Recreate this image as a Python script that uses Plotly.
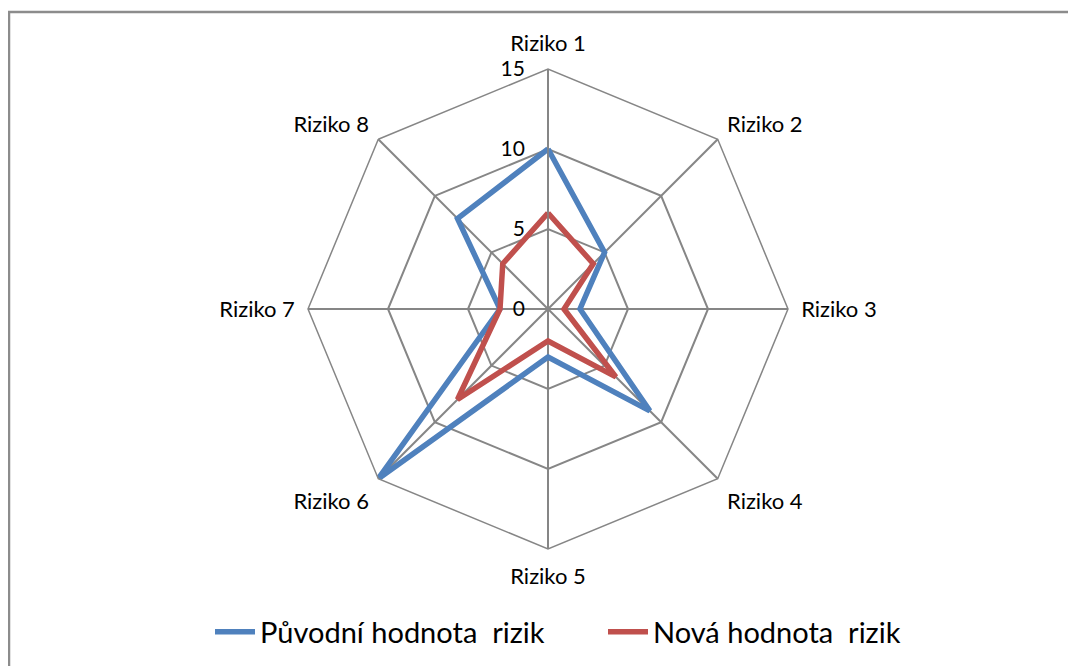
import plotly.graph_objects as go

categories = ["Riziko 1", "Riziko 2", "Riziko 3", "Riziko 4", "Riziko 5", "Riziko 6", "Riziko 7", "Riziko 8"]
puvodni = [10, 5, 2, 9, 3, 15, 3, 8]
nova = [6, 4, 1, 6, 2, 8, 3, 4]
radial_ticks = [0, 5, 10, 15]

W, H = 1076, 666
OFF = 8  # page body margin
cx, cy, R = 548 - OFF, 309 - OFF, 240

fig = go.Figure()
fig.add_trace(go.Scatterpolar(
    r=puvodni + puvodni[:1], theta=categories + categories[:1],
    mode="lines", name="Původní hodnota  rizik",
    line=dict(color="#4F81BD", width=5.5)))
fig.add_trace(go.Scatterpolar(
    r=nova + nova[:1], theta=categories + categories[:1],
    mode="lines", name="Nová hodnota  rizik",
    line=dict(color="#C0504D", width=5.5)))

fig.update_layout(
    width=W, height=H,
    margin=dict(l=0, r=0, t=0, b=0),
    paper_bgcolor="white",
    font=dict(family="Lato, 'Open Sans', sans-serif", color="black"),
    polar=dict(
        domain=dict(x=[(cx - R) / W, (cx + R) / W], y=[1 - (cy + R) / H, 1 - (cy - R) / H]),
        bgcolor="white",
        gridshape="linear",
        radialaxis=dict(
            range=[0, 15], tickvals=radial_ticks, angle=90, tickangle=90,
            side="counterclockwise",
            showline=True, linecolor="#868686", linewidth=1.5,
            gridcolor="#868686", gridwidth=1.5,
            ticks="outside", ticklen=15, tickcolor="rgba(0,0,0,0)",
            tickfont=dict(size=21, color="black"),
        ),
        angularaxis=dict(
            rotation=90, direction="clockwise",
            showline=True, linecolor="#868686", linewidth=1.5,
            gridcolor="#868686", gridwidth=1.5,
            ticks="outside", ticklen=8, tickcolor="rgba(0,0,0,0)",
            tickfont=dict(size=22, color="black"),
        ),
    ),
    legend=dict(
        orientation="h", x=(210 - OFF) / W, xanchor="left", y=1 - (632 - OFF) / H, yanchor="middle",
        font=dict(size=29), itemwidth=40, bgcolor="rgba(0,0,0,0)",
        entrywidth=338, entrywidthmode="pixels",
    ),
    shapes=[dict(
        type="rect", xref="paper", yref="paper",
        x0=(9 - OFF) / W, x1=1.05, y0=-0.05, y1=1 - (12 - OFF) / H,
        line=dict(color="#8c8c8c", width=2.5),
    )],
)

fig.write_html("out.html")
